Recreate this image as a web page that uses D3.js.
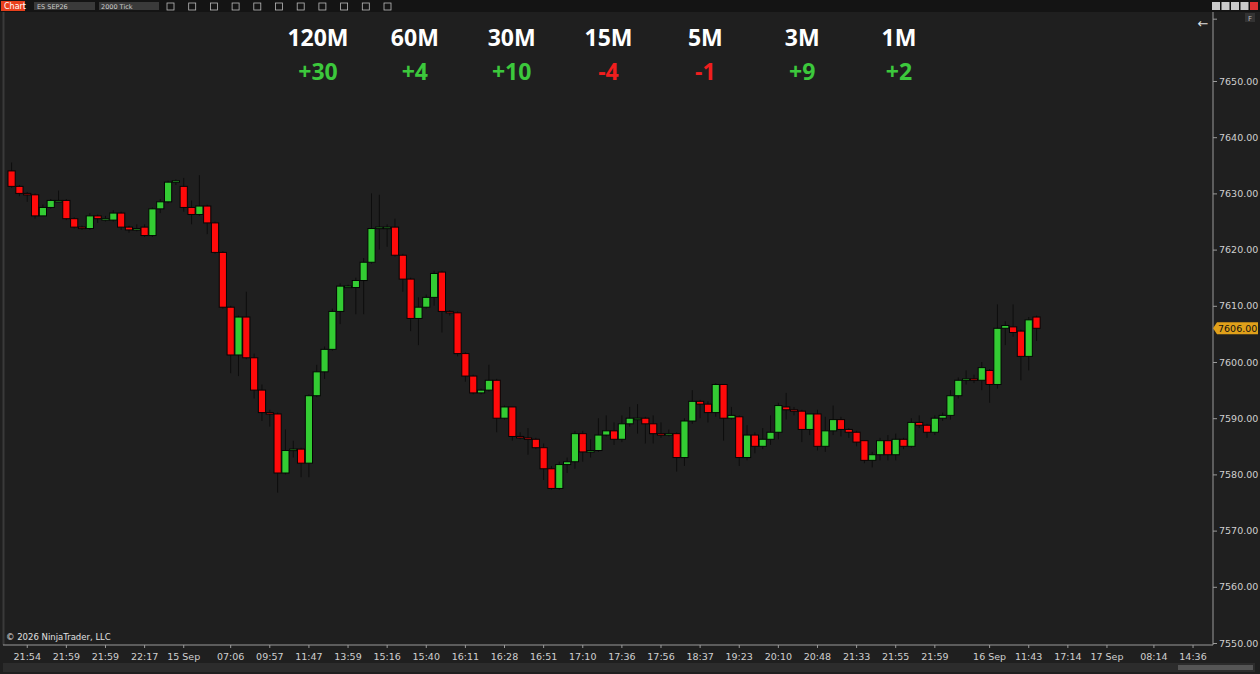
<!DOCTYPE html>
<html><head><meta charset="utf-8">
<script src="https://cdn.jsdelivr.net/npm/d3@7"></script>
<style>body{margin:0;background:#1f1f1f;overflow:hidden}svg{display:block}</style>
</head><body><svg id="c" width="1260" height="674"></svg>
<script>
// timeframe summary header
const frames = ['120M', '60M', '30M', '15M', '5M', '3M', '1M'];
const frameVals = [30, 4, 10, -4, -1, 9, 2];
// candles [open, high, low, close]
const ohlc = [
  [7634,7635.5,7631,7631.25],[7631.25,7631.5,7629.5,7630],[7630,7630.25,7628.5,7629.75],[7629.75,7630,7625.5,7626],
  [7626,7628,7626,7627.5],[7627.5,7629,7627.25,7628.75],[7628.75,7630.5,7628.5,7628.75],[7628.75,7629,7625.25,7625.5],
  [7625.5,7625.75,7623.75,7624],
  [7624,7624.25,7623.5,7623.75],[7623.75,7626.5,7623.5,7626],[7626,7626.25,7624.75,7625.5],[7625.5,7626,7625,7625.5],
  [7625.25,7627,7625,7626.5],[7626.5,7626.75,7623.5,7624],[7624,7624.25,7623,7623.5],[7623.5,7624.5,7623.25,7623.75],
  [7624,7624.5,7622.25,7622.5],[7622.5,7627.5,7622.25,7627.25],[7627.25,7629,7626.5,7628.5],[7628.5,7632.25,7628.25,7632],
  [7632,7632.5,7631.5,7632.25],[7631.25,7632.75,7626.75,7627.5],[7627.5,7628.75,7624.5,7626.25],[7626.25,7633.25,7626,7627.75],
  [7627.75,7628,7622.75,7624.75],[7624.75,7625,7619.25,7619.5],[7619.5,7619.75,7609.5,7609.75],[7609.75,7610,7598,7601.25],
  [7601.25,7608.25,7597.5,7608],[7608,7612.5,7600.5,7600.75],[7600.75,7601.5,7593.5,7595],[7595,7596,7589.5,7591],
  [7591,7591.5,7588.5,7590.75],[7590.75,7591,7576.75,7580.25],[7580.25,7588,7580,7584.25],[7584.25,7586,7583,7584.5],
  [7584.5,7584.75,7579.5,7582],[7582,7594.25,7579.5,7594],[7594,7599.5,7593.75,7598.25],[7598.25,7602.75,7597,7602.25],
  [7602.25,7609.5,7602,7609],[7609,7614,7606.75,7613.5],[7613.5,7613.75,7613.25,7613.5],[7613.25,7615,7608.5,7614.5],
  [7614.5,7618.5,7608.5,7617.75],[7617.75,7630,7617.5,7623.75],[7623.75,7629.75,7620,7624],[7624,7624.5,7620.5,7624],
  [7624,7625.5,7618.75,7619],[7619,7619.25,7612.5,7614.75],[7614.75,7615,7605.5,7607.75],[7607.75,7611.5,7603,7609.75],
  [7609.75,7612,7609.5,7611.5],[7611.5,7616.25,7610,7615.75],[7616,7616.25,7605.25,7609],[7609,7609.25,7608.25,7608.75],
  [7608.75,7609,7601,7601.5],[7601.5,7601.75,7596.5,7597.5],[7597.5,7597.75,7594.25,7594.5],[7594.5,7595.25,7594.25,7595],
  [7595,7599.5,7594.75,7596.75],[7596.75,7597,7587.5,7590],[7590,7592.25,7589.75,7592],[7592,7592,7586,7586.75],
  [7586.75,7587.5,7586.25,7586.5],[7586.5,7588.25,7583.5,7586.25],[7586.25,7586.5,7584.5,7584.75],[7584.75,7585.5,7579,7581],
  [7581,7581.5,7577.25,7577.5],[7577.5,7582.25,7577.25,7581.75],[7581.75,7583,7580.25,7582.25],[7582.25,7587.75,7581,7587.25],
  [7587.25,7587.75,7582.25,7584],[7584,7586.25,7583,7584.25],[7584.25,7590,7584,7587],[7587,7590.5,7586.75,7587.75],
  [7587.75,7589.25,7585.25,7586.25],[7586.25,7590.5,7585.75,7589],[7589,7592,7588.5,7590],[7590,7592.5,7587.25,7590],
  [7590,7590.25,7585.5,7589],[7589,7590.5,7585.5,7587.25],[7587.25,7589.25,7586.5,7587],[7587,7588,7586.75,7587.25],
  [7587.25,7587.5,7580.5,7583],[7583,7590,7581.5,7589.5],[7589.5,7595,7589,7593],[7593,7593.25,7590,7592.5],
  [7592.5,7593,7589.25,7591],[7591,7596.25,7590.25,7596],[7596,7596,7586,7590],[7590,7592,7589.75,7590.5],
  [7590.25,7590.5,7581.5,7583],[7583,7588.75,7582.5,7587],[7587,7587.5,7583.75,7585],[7585,7588.25,7584.5,7586.25],
  [7586.25,7590.5,7585.25,7587.5],[7587.5,7592.75,7586.25,7592.25],[7592,7594.5,7589.75,7591.5],[7591.5,7592,7590.5,7591.25],
  [7591.25,7591.5,7585.75,7588],[7588,7590.75,7587,7590.75],[7590.75,7591.5,7584.25,7585],[7585,7590.25,7584,7587.75],
  [7587.75,7592.25,7587,7589.75],[7589.75,7590.25,7586.75,7588],[7588,7588.25,7586.5,7587.5],[7587.5,7587.75,7585,7585.75],
  [7586,7586,7582,7582.5],[7582.5,7584,7581.25,7583.5],[7583.5,7586.5,7582.5,7586],[7586,7587,7582.5,7583.5],
  [7583.5,7587.25,7582.5,7586.25],[7586.25,7586.5,7584.5,7585],[7585,7590,7584.75,7589.25],[7589.25,7590.5,7588.25,7588.75],
  [7588.75,7589,7586.5,7587.5],[7587.5,7590.5,7587,7590],[7590,7591,7589.5,7590.5],[7590.5,7595,7589.75,7594],
  [7594,7597.25,7593.5,7596.75],[7596.75,7598.5,7596,7597],[7597,7597.75,7596.25,7596.75],[7596.75,7600,7595,7599],
  [7598.5,7598.75,7592.75,7596],[7596,7610.25,7595.25,7606],[7606,7607.25,7603,7606.5],[7606.25,7610.25,7604.5,7605.25],
  [7605.5,7605.75,7596.75,7601],[7601,7608,7598.5,7607.5],[7608,7608.25,7603.75,7606]
];
const timeSlots = [2,7,12,17,22,28,33,38,43,48,53,58,63,68,73,78,83,88,93,98,103,108,113,118,125,130,135,140,146,151];
const timeLabels = ['21:54','21:59','21:59','22:17','15 Sep','07:06','09:57','11:47','13:59','15:16','15:40','16:11','16:28','16:51','17:10','17:36','17:56','18:37','19:23','20:10','20:48','21:33','21:55','21:59','16 Sep','11:43','17:14','17 Sep','08:14','14:36'];
const priceTicks = d3.range(7550, 7651, 10);
const lastPrice = 7606;

const svg = d3.select('#c');
const W = 1260, H = 674, plotR = 1213, plotB = 645;
const nSlots = 154;

const x = d3.scaleBand().domain(d3.range(nSlots)).range([8, 8 + nSlots * 7.82]).paddingInner(0.08);
const y = d3.scaleLinear().domain([7550, 7650]).range([643, 81]);

svg.append('rect').attr('width', W).attr('height', H).attr('fill', '#1f1f1f');
// top toolbar
svg.append('rect').attr('width', W).attr('height', 12).attr('fill', '#141414');
svg.append('rect').attr('x', 1).attr('y', 1).attr('width', 24).attr('height', 10).attr('fill', '#e8401c');
svg.append('text').attr('x', 4).attr('y', 9).text('Chart').attr('fill', '#fff').attr('font-size', 8).attr('font-family', 'DejaVu Sans');
svg.append('rect').attr('x', 34).attr('y', 2).attr('width', 61).attr('height', 8).attr('fill', '#3a3a3a');
svg.append('text').attr('x', 37).attr('y', 8.5).text('ES SEP26').attr('fill', '#ccc').attr('font-size', 6.5).attr('font-family', 'DejaVu Sans');
svg.append('rect').attr('x', 99).attr('y', 2).attr('width', 60).attr('height', 8).attr('fill', '#3a3a3a');
svg.append('text').attr('x', 101).attr('y', 8.5).text('2000 Tick').attr('fill', '#ccc').attr('font-size', 6.5).attr('font-family', 'DejaVu Sans');
d3.range(11).forEach(i => svg.append('rect').attr('x', 167 + i * 21.7).attr('y', 3).attr('width', 7).attr('height', 7).attr('fill', 'none').attr('stroke', '#bbb').attr('stroke-width', 0.8));
['#ccc', '#ccc', '#ccc', '#ccc', '#d33'].forEach((c, i) => svg.append('rect').attr('x', 1212 + i * 9.5).attr('y', 2).attr('width', 8).attr('height', 8).attr('fill', c));

// frame
svg.append('line').attr('x1', 3.5).attr('x2', 3.5).attr('y1', 12).attr('y2', plotB).attr('stroke', '#3a3a3a').attr('stroke-width', 2);
svg.append('line').attr('x1', plotR).attr('x2', plotR).attr('y1', 12).attr('y2', plotB).attr('stroke', '#9a9a9a');
svg.append('line').attr('x1', 3).attr('x2', plotR).attr('y1', plotB).attr('y2', plotB).attr('stroke', '#9a9a9a');

// price axis
const yAxis = svg.append('g').attr('transform', `translate(${plotR},0)`)
  .call(d3.axisRight(y).tickValues(priceTicks).tickSize(4).tickFormat(d3.format('.2f')));
yAxis.select('.domain').remove();
yAxis.selectAll('line').attr('stroke', '#9a9a9a');
yAxis.selectAll('text').attr('fill', '#d0d0d0').attr('font-size', 9.5).attr('font-family', 'DejaVu Sans').attr('x', 6);
svg.append('line').attr('x1', plotR).attr('x2', plotR + 4).attr('y1', y(7661)).attr('y2', y(7661)).attr('stroke', '#9a9a9a');

// time axis
const xc = i => x(i) + x.bandwidth() / 2;
const tg = svg.append('g');
timeSlots.forEach((s, i) => {
  tg.append('line').attr('x1', xc(s)).attr('x2', xc(s)).attr('y1', plotB).attr('y2', plotB + 3).attr('stroke', '#9a9a9a');
  tg.append('text').attr('x', xc(s)).attr('y', 660).attr('text-anchor', 'middle').text(timeLabels[i])
    .attr('fill', '#d0d0d0').attr('font-size', 9.5).attr('font-family', 'DejaVu Sans');
});
// scrollbar
svg.append('rect').attr('x', 3).attr('y', 663).attr('width', 1252).attr('height', 9).attr('fill', '#2c2c2c');
svg.append('rect').attr('x', 1178).attr('y', 665).attr('width', 75).attr('height', 5).attr('fill', '#555');

// candles
const up = '#33cc33', dn = '#ff0a0a';
const cg = svg.append('g');
ohlc.forEach((d, i) => {
  const [o, h, l, c] = d;
  cg.append('line').attr('x1', xc(i)).attr('x2', xc(i)).attr('y1', y(h)).attr('y2', y(l)).attr('stroke', '#0d0d0d').attr('stroke-width', 1);
  const top = y(Math.max(o, c)), bot = y(Math.min(o, c));
  cg.append('rect').attr('x', x(i)).attr('y', top).attr('width', x.bandwidth()).attr('height', Math.max(bot - top, 1.5))
    .attr('fill', c >= o ? up : dn).attr('stroke', '#050505').attr('stroke-width', 1);
});

// last price marker
const ly = y(lastPrice);
svg.append('path').attr('d', `M${plotR},${ly} L${plotR + 4},${ly - 6} H1258 V${ly + 6} H${plotR + 4} Z`).attr('fill', '#e0a01a');
svg.append('text').attr('x', 1218).attr('y', ly + 3.5).text(d3.format('.2f')(lastPrice)).attr('fill', '#111').attr('font-size', 9.5).attr('font-family', 'DejaVu Sans');

// header
const hx = d3.scalePoint().domain(frames).range([318, 899]);
frames.forEach((f, i) => {
  svg.append('text').attr('x', hx(f)).attr('y', 46).attr('text-anchor', 'middle').text(f)
    .attr('fill', '#fff').attr('font-size', 23).attr('font-weight', 'bold').attr('font-family', 'Open Sans');
  const v = frameVals[i];
  svg.append('text').attr('x', hx(f)).attr('y', 80).attr('text-anchor', 'middle').text((v > 0 ? '+' : '') + v)
    .attr('fill', v >= 0 ? '#3cc83c' : '#f01e1e').attr('font-size', 23).attr('font-weight', 'bold').attr('font-family', 'Open Sans');
});

svg.append('text').attr('x', 1203).attr('y', 28).attr('text-anchor', 'middle').text('←').attr('fill', '#ddd').attr('font-size', 13).attr('font-family', 'DejaVu Sans');
svg.append('rect').attr('x', 1245).attr('y', 13).attr('width', 10).attr('height', 9).attr('fill', '#333');
svg.append('text').attr('x', 1250).attr('y', 20.5).attr('text-anchor', 'middle').text('F').attr('fill', '#bbb').attr('font-size', 7).attr('font-family', 'DejaVu Sans');
svg.append('text').attr('x', 6).attr('y', 640).text('© 2026 NinjaTrader, LLC').attr('fill', '#e0e0e0').attr('font-size', 8.5).attr('font-family', 'DejaVu Sans');
</script></body></html>
